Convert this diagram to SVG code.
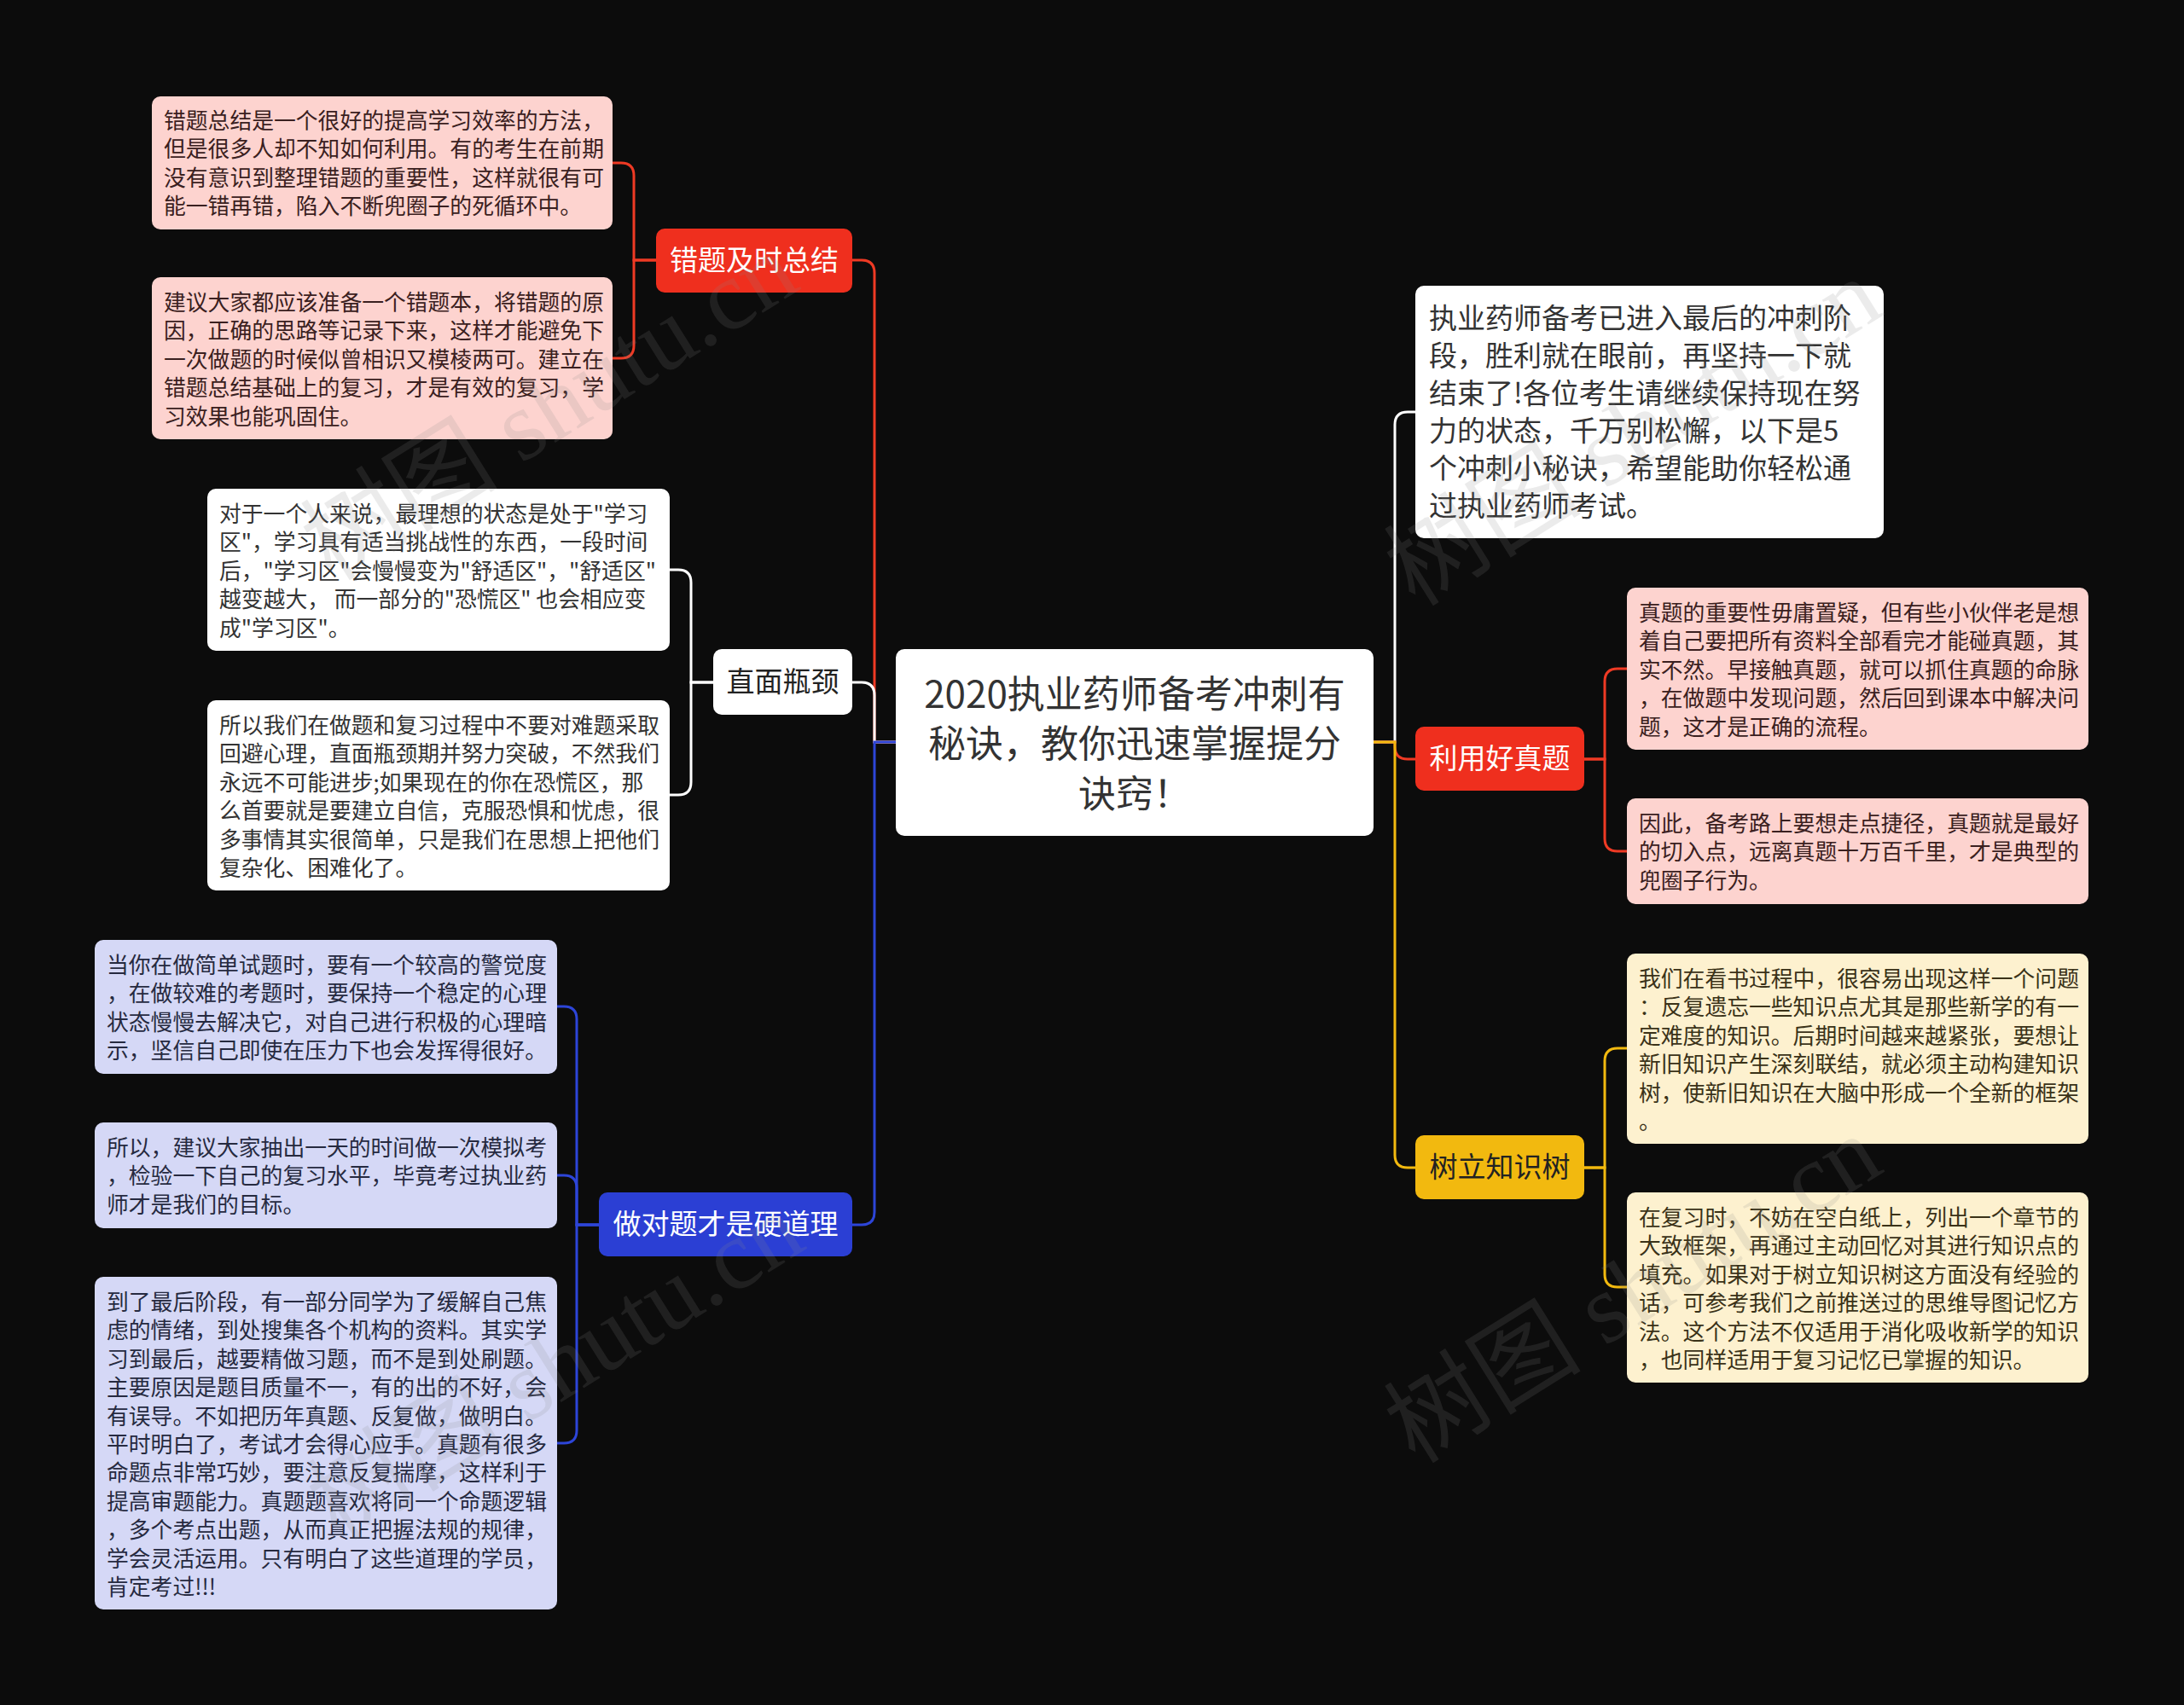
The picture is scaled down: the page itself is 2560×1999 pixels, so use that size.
<svg xmlns="http://www.w3.org/2000/svg" width="2560" height="1999" viewBox="0 0 2560 1999">
<style>
.t{font-family:"Noto Sans CJK SC","Noto Sans",sans-serif;}
.c{font-size:25.8px;fill:#333333;}
.cp{fill:#3a2020;}
.cl{fill:#262a40;}
.cy{fill:#3a3218;}
.b{font-size:33px;text-anchor:middle;}
.bw{fill:#ffffff;}
.bd{fill:#222222;}
.in{font-size:33px;fill:#333333;}
.root{font-size:44px;fill:#333333;text-anchor:middle;}
.ln{fill:none;stroke-width:3;}
.wm{font-family:"Liberation Serif","Noto Sans CJK SC",serif;font-size:116px;fill:#8a8a8a;opacity:0.16;text-anchor:middle;}
</style>
<rect x="0" y="0" width="2560" height="1999" fill="#0c0c0c"/>

<g id="connectors">
  <path class="ln" stroke="#ef3a24" d="M1050,870 H1025 V320 Q1025,305 1010,305 H999"/>
  <path class="ln" stroke="#ffffff" d="M1050,870 H1025 V815 Q1025,800 1010,800 H999"/>
  <path class="ln" stroke="#2d45d8" d="M1050,870 H1025 V1421 Q1025,1436 1010,1436 H999"/>
  <path class="ln" stroke="#ffffff" d="M1610,870 H1635 V498 Q1635,483 1650,483 H1659"/>
  <path class="ln" stroke="#ef3a24" d="M1610,870 H1635 V875 Q1635,890 1650,890 H1659"/>
  <path class="ln" stroke="#f2b90f" d="M1610,870 H1635 V1354 Q1635,1369 1650,1369 H1659"/>
  <path class="ln" stroke="#ef3a24" d="M769,305 H743 V206 Q743,191 728,191 H718"/>
  <path class="ln" stroke="#ef3a24" d="M769,305 H743 V405 Q743,420 728,420 H718"/>
  <path class="ln" stroke="#ffffff" d="M836,800 H810 V683 Q810,668 795,668 H785"/>
  <path class="ln" stroke="#ffffff" d="M836,800 H810 V917 Q810,932 795,932 H785"/>
  <path class="ln" stroke="#2d45d8" d="M702,1436 H676 V1195 Q676,1180 661,1180 H653"/>
  <path class="ln" stroke="#2d45d8" d="M702,1436 H676 V1393 Q676,1378 661,1378 H653"/>
  <path class="ln" stroke="#2d45d8" d="M702,1436 H676 V1677 Q676,1692 661,1692 H653"/>
  <path class="ln" stroke="#ef3a24" d="M1857,890 H1881 V799 Q1881,784 1896,784 H1907"/>
  <path class="ln" stroke="#ef3a24" d="M1857,890 H1881 V983 Q1881,998 1896,998 H1907"/>
  <path class="ln" stroke="#f2b90f" d="M1857,1369 H1881 V1244 Q1881,1229 1896,1229 H1907"/>
  <path class="ln" stroke="#f2b90f" d="M1857,1369 H1881 V1494 Q1881,1509 1896,1509 H1907"/>
</g>

<g id="root">
  <rect x="1050" y="761" width="560" height="219" rx="10" fill="#ffffff"/>
  <text class="t root"><tspan x="1330" y="830">2020执业药师备考冲刺有</tspan><tspan x="1330" y="888">秘诀，教你迅速掌握提分</tspan><tspan x="1330" y="947">诀窍！</tspan></text>
</g>

<g id="n-cuoti">
  <rect x="769" y="268" width="230" height="75" rx="10" fill="#ef2f1e"/>
  <text class="t b bw" x="884" y="317">错题及时总结</text>
</g>
<g id="n-cuoti-1">
  <rect x="178" y="113" width="540" height="156" rx="10" fill="#fdd3cf"/>
  <text class="t c cp"><tspan x="192" y="151">错题总结是一个很好的提高学习效率的方法，</tspan><tspan x="192" y="184.4">但是很多人却不知如何利用。有的考生在前期</tspan><tspan x="192" y="217.8">没有意识到整理错题的重要性，这样就很有可</tspan><tspan x="192" y="251.2">能一错再错，陷入不断兜圈子的死循环中。</tspan></text>
</g>
<g id="n-cuoti-2">
  <rect x="178" y="325" width="540" height="190" rx="10" fill="#fdd3cf"/>
  <text class="t c cp"><tspan x="192" y="364">建议大家都应该准备一个错题本，将错题的原</tspan><tspan x="192" y="397.4">因，正确的思路等记录下来，这样才能避免下</tspan><tspan x="192" y="430.8">一次做题的时候似曾相识又模棱两可。建立在</tspan><tspan x="192" y="464.2">错题总结基础上的复习，才是有效的复习，学</tspan><tspan x="192" y="497.6">习效果也能巩固住。</tspan></text>
</g>

<g id="n-pingjing">
  <rect x="836" y="761" width="163" height="77" rx="10" fill="#ffffff"/>
  <text class="t b bd" x="917.5" y="811">直面瓶颈</text>
</g>
<g id="n-pingjing-1">
  <rect x="243" y="573" width="542" height="190" rx="10" fill="#ffffff"/>
  <text class="t c"><tspan x="257" y="612">对于一个人来说，最理想的状态是处于"学习</tspan><tspan x="257" y="645.4">区"，学习具有适当挑战性的东西，一段时间</tspan><tspan x="257" y="678.8">后，"学习区"会慢慢变为"舒适区"，"舒适区"</tspan><tspan x="257" y="712.2">越变越大， 而一部分的"恐慌区" 也会相应变</tspan><tspan x="257" y="745.6">成"学习区"。</tspan></text>
</g>
<g id="n-pingjing-2">
  <rect x="243" y="821" width="542" height="223" rx="10" fill="#ffffff"/>
  <text class="t c"><tspan x="257" y="860">所以我们在做题和复习过程中不要对难题采取</tspan><tspan x="257" y="893.4">回避心理，直面瓶颈期并努力突破，不然我们</tspan><tspan x="257" y="926.8">永远不可能进步;如果现在的你在恐慌区，那</tspan><tspan x="257" y="960.2">么首要就是要建立自信，克服恐惧和忧虑，很</tspan><tspan x="257" y="993.6">多事情其实很简单，只是我们在思想上把他们</tspan><tspan x="257" y="1027">复杂化、困难化了。</tspan></text>
</g>

<g id="n-zuodui">
  <rect x="702" y="1398" width="297" height="75" rx="10" fill="#2b3fd4"/>
  <text class="t b bw" x="850.5" y="1447">做对题才是硬道理</text>
</g>
<g id="n-zuodui-1">
  <rect x="111" y="1102" width="542" height="157" rx="10" fill="#d5d8f6"/>
  <text class="t c cl"><tspan x="125" y="1141">当你在做简单试题时，要有一个较高的警觉度</tspan><tspan x="125" y="1174.4">，在做较难的考题时，要保持一个稳定的心理</tspan><tspan x="125" y="1207.8">状态慢慢去解决它，对自己进行积极的心理暗</tspan><tspan x="125" y="1241.2">示，坚信自己即使在压力下也会发挥得很好。</tspan></text>
</g>
<g id="n-zuodui-2">
  <rect x="111" y="1316" width="542" height="124" rx="10" fill="#d5d8f6"/>
  <text class="t c cl"><tspan x="125" y="1355">所以，建议大家抽出一天的时间做一次模拟考</tspan><tspan x="125" y="1388.4">，检验一下自己的复习水平，毕竟考过执业药</tspan><tspan x="125" y="1421.8">师才是我们的目标。</tspan></text>
</g>
<g id="n-zuodui-3">
  <rect x="111" y="1497" width="542" height="390" rx="10" fill="#d5d8f6"/>
  <text class="t c cl"><tspan x="125" y="1536">到了最后阶段，有一部分同学为了缓解自己焦</tspan><tspan x="125" y="1569.4">虑的情绪，到处搜集各个机构的资料。其实学</tspan><tspan x="125" y="1602.8">习到最后，越要精做习题，而不是到处刷题。</tspan><tspan x="125" y="1636.2">主要原因是题目质量不一，有的出的不好，会</tspan><tspan x="125" y="1669.6">有误导。不如把历年真题、反复做，做明白。</tspan><tspan x="125" y="1703">平时明白了，考试才会得心应手。真题有很多</tspan><tspan x="125" y="1736.4">命题点非常巧妙，要注意反复揣摩，这样利于</tspan><tspan x="125" y="1769.8">提高审题能力。真题题喜欢将同一个命题逻辑</tspan><tspan x="125" y="1803.2">，多个考点出题，从而真正把握法规的规律，</tspan><tspan x="125" y="1836.6">学会灵活运用。只有明白了这些道理的学员，</tspan><tspan x="125" y="1870">肯定考过!!!</tspan></text>
</g>

<g id="n-intro">
  <rect x="1659" y="335" width="549" height="296" rx="10" fill="#ffffff"/>
  <text class="t in"><tspan x="1675" y="385">执业药师备考已进入最后的冲刺阶</tspan><tspan x="1675" y="429">段，胜利就在眼前，再坚持一下就</tspan><tspan x="1675" y="473">结束了!各位考生请继续保持现在努</tspan><tspan x="1675" y="517">力的状态，千万别松懈，以下是5</tspan><tspan x="1675" y="561">个冲刺小秘诀，希望能助你轻松通</tspan><tspan x="1675" y="605">过执业药师考试。</tspan></text>
</g>

<g id="n-zhenti">
  <rect x="1659" y="852" width="198" height="75" rx="10" fill="#ef2f1e"/>
  <text class="t b bw" x="1758" y="901">利用好真题</text>
</g>
<g id="n-zhenti-1">
  <rect x="1907" y="689" width="541" height="190" rx="10" fill="#fdd3cf"/>
  <text class="t c cp"><tspan x="1921" y="728">真题的重要性毋庸置疑，但有些小伙伴老是想</tspan><tspan x="1921" y="761.4">着自己要把所有资料全部看完才能碰真题，其</tspan><tspan x="1921" y="794.8">实不然。早接触真题，就可以抓住真题的命脉</tspan><tspan x="1921" y="828.2">，在做题中发现问题，然后回到课本中解决问</tspan><tspan x="1921" y="861.6">题，这才是正确的流程。</tspan></text>
</g>
<g id="n-zhenti-2">
  <rect x="1907" y="936" width="541" height="124" rx="10" fill="#fdd3cf"/>
  <text class="t c cp"><tspan x="1921" y="975">因此，备考路上要想走点捷径，真题就是最好</tspan><tspan x="1921" y="1008.4">的切入点，远离真题十万百千里，才是典型的</tspan><tspan x="1921" y="1041.8">兜圈子行为。</tspan></text>
</g>

<g id="n-zhishi">
  <rect x="1659" y="1331" width="198" height="75" rx="10" fill="#f2b90f"/>
  <text class="t b bd" x="1758" y="1380">树立知识树</text>
</g>
<g id="n-zhishi-1">
  <rect x="1907" y="1118" width="541" height="223" rx="10" fill="#fdf1cf"/>
  <text class="t c cy"><tspan x="1921" y="1157">我们在看书过程中，很容易出现这样一个问题</tspan><tspan x="1921" y="1190.4">：反复遗忘一些知识点尤其是那些新学的有一</tspan><tspan x="1921" y="1223.8">定难度的知识。后期时间越来越紧张，要想让</tspan><tspan x="1921" y="1257.2">新旧知识产生深刻联结，就必须主动构建知识</tspan><tspan x="1921" y="1290.6">树，使新旧知识在大脑中形成一个全新的框架</tspan><tspan x="1921" y="1324">。</tspan></text>
</g>
<g id="n-zhishi-2">
  <rect x="1907" y="1398" width="541" height="223" rx="10" fill="#fdf1cf"/>
  <text class="t c cy"><tspan x="1921" y="1437">在复习时，不妨在空白纸上，列出一个章节的</tspan><tspan x="1921" y="1470.4">大致框架，再通过主动回忆对其进行知识点的</tspan><tspan x="1921" y="1503.8">填充。如果对于树立知识树这方面没有经验的</tspan><tspan x="1921" y="1537.2">话，可参考我们之前推送过的思维导图记忆方</tspan><tspan x="1921" y="1570.6">法。这个方法不仅适用于消化吸收新学的知识</tspan><tspan x="1921" y="1604">，也同样适用于复习记忆已掌握的知识。</tspan></text>
</g>

<g id="watermark">
  <text class="wm" transform="translate(665,510) rotate(-32)">树图 shutu.cn</text>
  <text class="wm" transform="translate(1935,540) rotate(-32)">树图 shutu.cn</text>
  <text class="wm" transform="translate(672,1635) rotate(-32)">树图 shutu.cn</text>
  <text class="wm" transform="translate(1935,1545) rotate(-32)">树图 shutu.cn</text>
</g>
</svg>
